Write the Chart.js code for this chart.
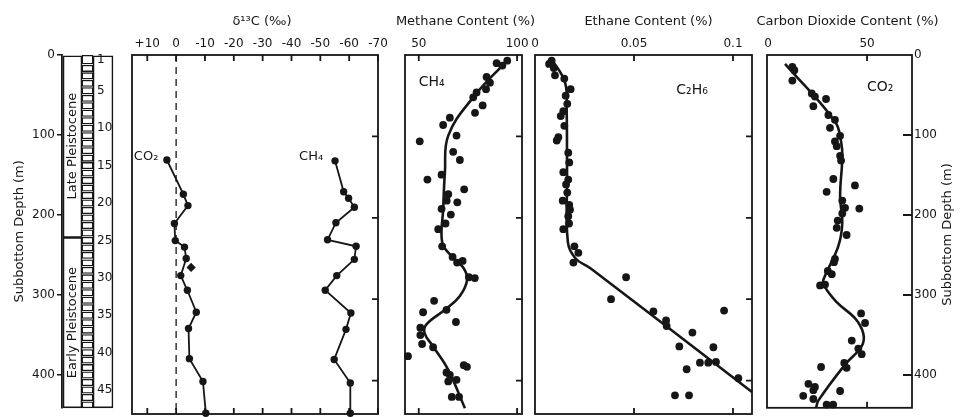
<!DOCTYPE html>
<html><head><meta charset="utf-8">
<script src="https://cdn.jsdelivr.net/npm/chart.js@4.4.1/dist/chart.umd.min.js"></script>
<style>
html,body{margin:0;padding:0;background:#fff;}
#wrap{position:relative;width:960px;height:417px;overflow:hidden;background:#fff;}
#wrap canvas{position:absolute;left:0;top:0;}
</style></head><body>
<div id="wrap">
<canvas id="c0" width="960" height="417"></canvas>
<canvas id="c1" width="960" height="417"></canvas>
<canvas id="c2" width="960" height="417"></canvas>
<canvas id="c3" width="960" height="417"></canvas>
<canvas id="c4" width="960" height="417"></canvas>
</div>
<script>
// ---------------- DATA ----------------
const depthTicks = [0, 100, 200, 300, 400];

// stratigraphic column
const epochNames = ['Late Pleistocene', 'Early Pleistocene'];
const epochTop = [0, 228];
const epochBottom = [228, 441];
const coreTop = [0.5,12.8,22.1,31.5,40.8,50.2,59.5,68.9,78.2,87.6,96.9,106.3,115.6,125.0,134.3,143.7,153.0,162.4,171.7,181.1,190.4,199.8,209.1,218.5,227.8,237.2,246.5,255.9,265.2,274.6,283.9,293.3,302.6,312.0,321.3,330.7,340.0,349.4,358.7,368.1,377.4,386.8,396.1,405.5,414.8,424.2,433.5];
const coreBottom = [11.3,20.7,30.0,39.4,48.7,58.1,67.4,76.8,86.1,95.5,104.8,114.2,123.5,132.9,142.2,151.6,160.9,170.3,179.6,189.0,198.3,207.7,217.0,226.4,235.7,245.1,254.4,263.8,273.1,282.5,291.8,301.2,310.5,319.9,329.2,338.6,347.9,357.3,366.6,376.0,385.3,394.7,404.0,413.4,422.7,432.1,441.0];
const coreLabels = [1, 5, 10, 15, 20, 25, 30, 35, 40, 45];

// delta 13C panel
const d13cTicks = [10, 0, -10, -20, -30, -40, -50, -60, -70];
const d13cCO2Depth = [129,171,185,207,228,236,250,271,289,316,336,373,401,440];
const d13cCO2 = [3.2,-2.5,-4.1,0.6,0.3,-2.9,-3.5,-1.6,-3.9,-7.0,-4.3,-4.6,-9.3,-10.3];
const d13cCO2OddDepth = [261];
const d13cCO2Odd = [-5.2];
const d13cCH4Depth = [130,168,176,187,206,227,235,251,271,289,317,337,374,403,440];
const d13cCH4 = [-55.1,-58.1,-59.8,-61.8,-55.4,-52.5,-62.4,-61.8,-55.7,-51.7,-60.6,-58.9,-54.8,-60.4,-60.4];

// methane content
const methaneTicks = [50, 100];
const methaneDepth = [7,10,13,27,34,42,46,52,62,71,77,86,99,106,119,129,147,153,165,171,179,181,189,196,207,214,235,248,253,255,273,274,302,313,316,328,335,344,355,359,370,381,383,390,393,399,401,420,420];
const methaneValue = [95.0,89.6,92.5,84.5,86.2,84.2,79.4,77.7,82.5,78.6,65.8,62.4,69.2,50.5,67.5,70.9,61.6,54.4,73.1,65.0,64.2,69.6,61.6,66.3,63.6,59.9,61.9,67.2,72.3,69.5,75.5,78.5,57.8,64.1,52.2,68.9,50.8,50.8,51.7,57.3,44.5,72.9,74.5,64.1,65.8,69.2,65.0,66.8,70.5];
const methaneTrendDepth = [8,52,99,144,190,230,247,261,276,296,313,331,342,358,387,434];
const methaneTrend = [94.4,77.7,65.0,63.3,62.4,61.9,66.6,72.6,74.6,70.9,63.3,53.9,53.0,57.3,65.0,73.5];

// ethane content
const ethaneTicks = [0, 0.05, 0.1];
const ethaneDepth = [7,11,16,25,29,42,50,60,69,75,87,101,105,120,132,144,153,159,169,179,184,190,198,207,214,235,243,255,273,300,314,315,326,333,341,358,359,377,378,378,386,397,418,418];
const ethaneValue = [0.0084,0.0071,0.0095,0.0101,0.0148,0.018,0.0155,0.0163,0.0143,0.013,0.0148,0.0118,0.011,0.0168,0.0173,0.0143,0.0168,0.0157,0.0163,0.014,0.0173,0.0177,0.0168,0.0172,0.0143,0.0199,0.0219,0.0194,0.046,0.0384,0.0955,0.0598,0.0662,0.0665,0.0795,0.0729,0.0901,0.0914,0.0833,0.0875,0.0766,0.1027,0.0707,0.0778];
const ethaneTrendDepth = [5,34,70,150,230,250,262,414];
const ethaneTrend = [0.0084,0.0152,0.016,0.0162,0.0166,0.0205,0.028,0.1096];

// carbon dioxide content
const co2Ticks = [0, 50];
const co2Depth = [15,19,32,48,52,55,64,75,81,91,101,108,114,126,132,155,163,171,182,191,192,198,207,216,225,255,259,270,274,287,288,323,335,357,367,374,385,390,391,411,415,419,420,426,430,437,437];
const co2Value = [12.3,13.3,12.3,22.1,23.7,29.3,22.9,30.5,33.8,31.3,36.4,33.8,34.7,36.4,36.9,33.0,43.9,29.6,37.5,38.9,46.1,37.5,35.2,34.7,39.7,33.8,33.3,30.2,32.2,28.8,26.3,47.0,49.0,42.3,45.6,47.3,38.5,26.8,39.7,20.4,23.7,22.9,36.4,17.8,22.9,29.6,32.9];
const co2TrendDepth = [11,83,108,128,177,210,239,276,286,309,329,348,364,387,432,441];
const co2Trend = [8.6,33.8,36.9,37.5,36.4,37.5,35.5,28.8,27.9,34.7,43.9,48.1,47.3,38.9,25.4,24.3];

// ---------------- SETUP ----------------
const INK = '#161616';
const FONT = "'DejaVu Sans', sans-serif";
Chart.defaults.font.family = FONT;
Chart.defaults.font.size = 12;
Chart.defaults.color = INK;
Chart.defaults.animation = false;
Chart.defaults.plugins.legend.display = false;
Chart.defaults.plugins.tooltip.enabled = false;

const W = 960, TOP = 55, BOT_PAD = 3, DEPTH_MAX = 441, TITLE_Y = 22;

const setTicks = vals => s => { s.ticks = vals.map(v => ({ value: v })); };
const pts = (xs, ys) => xs.map((v, i) => ({ x: v, y: ys[i] }));

function depthAxis(extra) {
  return Object.assign({ type: 'linear', reverse: true, min: 0, max: DEPTH_MAX, display: false,
    afterBuildTicks: setTicks(depthTicks) }, extra || {});
}
function topAxis(min, max, reverse, tickVals, fmt) {
  return {
    type: 'linear', position: 'top', min, max, reverse,
    afterBuildTicks: setTicks(tickVals),
    afterFit: s => { s.height = TOP; },
    grid: { display: false, drawTicks: false },
    border: { display: false },
    ticks: { padding: 4, font: { size: 12 }, color: INK, callback: fmt, maxRotation: 0, autoSkip: false },
    title: { display: false }
  };
}
function framePlugin(cfg) {
  return { id: 'frame', afterDraw(chart) {
    const { ctx, chartArea: a } = chart;
    const xs = chart.scales.x, ys = chart.scales.y;
    const L = cfg.len || 6;
    ctx.save();
    ctx.strokeStyle = INK; ctx.lineWidth = 1.8; ctx.lineCap = 'butt';
    ctx.strokeRect(a.left, a.top, a.right - a.left, a.bottom - a.top);
    ctx.beginPath();
    (cfg.xTicks || []).forEach(v => {
      const p = xs.getPixelForValue(v);
      ctx.moveTo(p, a.top); ctx.lineTo(p, a.top + L);
      ctx.moveTo(p, a.bottom); ctx.lineTo(p, a.bottom - L);
    });
    (cfg.rightTicks || []).forEach(v => {
      const p = ys.getPixelForValue(v);
      ctx.moveTo(a.right, p); ctx.lineTo(a.right - (cfg.rlen || L), p);
    });
    ctx.stroke();
    ctx.restore();
  }};
}
function textPlugin(items) {
  return { id: 'texts', afterDraw(chart) {
    const { ctx } = chart;
    const xs = chart.scales.x, ys = chart.scales.y;
    items.forEach(it => {
      const px = it.absX ? it.x : xs.getPixelForValue(it.x);
      const py = it.absY ? it.y : ys.getPixelForValue(it.y);
      ctx.save();
      ctx.translate(px, py);
      if (it.rot) ctx.rotate(it.rot);
      ctx.font = (it.size || 12) + 'px ' + FONT;
      ctx.fillStyle = INK;
      ctx.textAlign = it.align || 'center';
      ctx.textBaseline = 'middle';
      ctx.fillText(it.text, 0, 0);
      ctx.restore();
    });
  }};
}
// panel title, centred on the panel's chart area
function titlePlugin(text, shift) {
  return { id: 'ptitle', afterDraw(chart) {
    const { ctx, chartArea: a } = chart;
    ctx.save();
    ctx.font = '13px ' + FONT;
    ctx.fillStyle = INK;
    ctx.textAlign = 'center';
    ctx.textBaseline = 'middle';
    ctx.fillText(text, (a.left + a.right) / 2 + (shift || 0), TITLE_Y);
    ctx.restore();
  }};
}
const dot = { showLine: false, pointRadius: 3.9, pointBackgroundColor: INK, pointBorderWidth: 0, borderColor: INK, clip: false };
const trend = { showLine: true, pointRadius: 0, borderColor: INK, borderWidth: 2.6, tension: 0.4, fill: false, clip: false };
const baseOpts = (left, right, scales) => ({
  responsive: false, animation: false,
  layout: { autoPadding: false, padding: { left, right, top: 0, bottom: BOT_PAD } },
  scales,
  plugins: { legend: { display: false }, tooltip: { enabled: false } }
});

// ---------------- COLUMN ----------------
const EPOCH_X = 10.5, CORE_X = 25.5, NUM_X = 41, NUM_TEXT_X = 35;
const barStyle = { backgroundColor: '#fff', borderColor: INK, borderWidth: 1.6, borderSkipped: false, stack: 'col', clip: false };
const colTexts = epochNames.map((n, i) => ({ text: n, x: EPOCH_X, y: (epochTop[i] + epochBottom[i]) / 2, rot: -Math.PI / 2, size: 13 }))
  .concat(coreLabels.map(n => ({ text: String(n), x: NUM_TEXT_X, y: (coreTop[n - 1] + coreBottom[n - 1]) / 2, align: 'left', size: 12 })));
new Chart(document.getElementById('c0'), {
  type: 'bar',
  data: { datasets: [
    Object.assign({}, barStyle, { data: epochTop.map((t, i) => ({ x: EPOCH_X, y: [t, epochBottom[i]] })), barThickness: 19 }),
    Object.assign({}, barStyle, { data: [{ x: NUM_X, y: [0, DEPTH_MAX] }], barThickness: 20 }),
    Object.assign({}, barStyle, { data: coreTop.map((t, i) => ({ x: CORE_X, y: [t, coreBottom[i]] })), barThickness: 11, borderWidth: 1.3 })
  ]},
  options: {
    responsive: false, animation: false,
    layout: { autoPadding: false, padding: { left: 0, right: W - 113, top: TOP, bottom: BOT_PAD } },
    scales: {
      x: { type: 'linear', min: 0, max: 51, display: false, offset: false },
      y: { type: 'linear', reverse: true, min: 0, max: DEPTH_MAX, stacked: false, position: 'left',
        afterBuildTicks: setTicks(depthTicks), afterFit: s => { s.width = 62; },
        grid: { display: true, drawOnChartArea: false, drawTicks: true, tickLength: 5, color: INK, lineWidth: 1.5 },
        border: { display: true, color: INK, width: 1.8 },
        ticks: { padding: 2, font: { size: 12 }, color: INK },
        title: { display: true, text: 'Subbottom Depth (m)', font: { size: 13 }, padding: { top: 12, bottom: 0 }, color: INK } }
    },
    plugins: { legend: { display: false }, tooltip: { enabled: false } }
  },
  plugins: [textPlugin(colTexts)]
});

// ---------------- DELTA 13C ----------------
const fmtDelta = v => v > 0 ? '+' + v : (v === 0 ? '0' : '-' + Math.abs(v));
new Chart(document.getElementById('c1'), {
  type: 'scatter',
  data: { datasets: [
    { data: [{ x: 0, y: 0 }, { x: 0, y: DEPTH_MAX }], showLine: true, pointRadius: 0, borderColor: INK, borderWidth: 1.3, borderDash: [7, 5] },
    Object.assign({}, dot, { data: pts(d13cCO2, d13cCO2Depth), showLine: true, borderWidth: 1.8, pointRadius: 3.7 }),
    Object.assign({}, dot, { data: pts(d13cCO2Odd, d13cCO2OddDepth), pointStyle: 'rectRot', pointRadius: 4.6 }),
    Object.assign({}, dot, { data: pts(d13cCH4, d13cCH4Depth), showLine: true, borderWidth: 1.8, pointRadius: 3.7 })
  ]},
  options: baseOpts(132, W - 378, { x: topAxis(-70, 15.3, true, d13cTicks, fmtDelta), y: depthAxis() }),
  plugins: [framePlugin({ xTicks: d13cTicks, rightTicks: depthTicks.slice(1) }),
    titlePlugin('δ¹³C (‰)', 7),
    textPlugin([{ text: 'CO₂', x: 10.4, y: 125, size: 13 }, { text: 'CH₄', x: -46.8, y: 125, size: 13 }])]
});

// ---------------- METHANE ----------------
new Chart(document.getElementById('c2'), {
  type: 'scatter',
  data: { datasets: [
    Object.assign({}, trend, { data: pts(methaneTrend, methaneTrendDepth) }),
    Object.assign({}, dot, { data: pts(methaneValue, methaneDepth) })
  ]},
  options: baseOpts(405, W - 522, { x: topAxis(43, 102.5, false, methaneTicks, v => String(v)), y: depthAxis() }),
  plugins: [framePlugin({ xTicks: methaneTicks, rightTicks: depthTicks.slice(1) }),
    titlePlugin('Methane Content (%)', 2),
    textPlugin([{ text: 'CH₄', x: 56.6, y: 34, size: 14 }])]
});

// ---------------- ETHANE ----------------
new Chart(document.getElementById('c3'), {
  type: 'scatter',
  data: { datasets: [
    Object.assign({}, trend, { data: pts(ethaneTrend, ethaneTrendDepth) }),
    Object.assign({}, dot, { data: pts(ethaneValue, ethaneDepth) })
  ]},
  options: baseOpts(535, W - 752, { x: topAxis(0, 0.1096, false, ethaneTicks, v => v === 0 ? '0' : String(v)), y: depthAxis() }),
  plugins: [framePlugin({ xTicks: ethaneTicks.slice(1), rightTicks: depthTicks.slice(1) }),
    titlePlugin('Ethane Content (%)', 5),
    textPlugin([{ text: 'C₂H₆', x: 0.0793, y: 43, size: 14 }])]
});

// ---------------- CARBON DIOXIDE ----------------
new Chart(document.getElementById('c4'), {
  type: 'scatter',
  data: { datasets: [
    Object.assign({}, trend, { data: pts(co2Trend, co2TrendDepth) }),
    Object.assign({}, dot, { data: pts(co2Value, co2Depth) })
  ]},
  options: baseOpts(767, 0, {
    x: topAxis(-0.5, 72.7, false, co2Ticks, v => String(v)),
    y: depthAxis({ display: true, position: 'right', afterFit: s => { s.width = W - 912; },
      grid: { display: false, drawTicks: false }, border: { display: false },
      ticks: { padding: 2, font: { size: 12 }, color: INK }, title: { display: false } })
  }),
  plugins: [framePlugin({ xTicks: co2Ticks.slice(1), rightTicks: depthTicks.slice(1), rlen: 9 }),
    titlePlugin('Carbon Dioxide Content (%)', 8),
    textPlugin([{ text: 'CO₂', x: 56.6, y: 40, size: 14 },
      { text: 'Subbottom Depth (m)', x: 948, y: 234.5, absX: true, absY: true, rot: -Math.PI / 2, size: 13 }])]
});
</script>
</body></html>
